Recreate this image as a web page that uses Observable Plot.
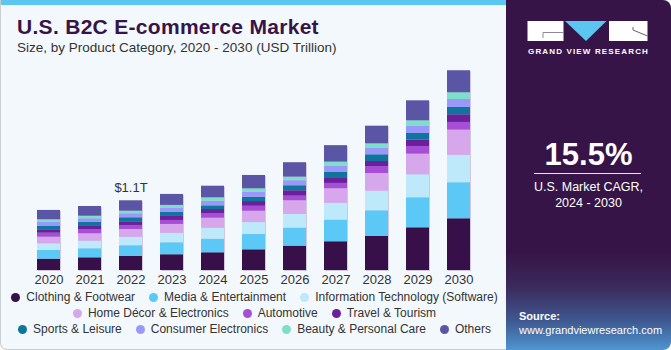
<!DOCTYPE html>
<html>
<head>
<meta charset="utf-8">
<script src="https://cdn.jsdelivr.net/npm/d3@7"></script>
<script src="https://cdn.jsdelivr.net/npm/@observablehq/plot@0.6"></script>
<style>
  html, body { margin: 0; padding: 0; }
  body { width: 671px; height: 350px; position: relative; overflow: hidden; background: #fff; font-family: "Liberation Sans", Arial, sans-serif; }
  #left { position: absolute; left: 0; top: 0; width: 507px; height: 350px; box-sizing: border-box; background: #f3f8fc; border: 1px solid #c9ced3; border-top: none; border-radius: 0 0 0 7px; overflow: hidden; }
  #stripe { position: absolute; left: 0; top: 0; width: 507px; height: 5px; background: #5cc6f2; }
  #title { position: absolute; left: 16px; top: 16px; font-size: 21px; line-height: 21px; font-weight: bold; letter-spacing: 0.3px; color: #371447; white-space: nowrap; }
  #subtitle { position: absolute; left: 16px; top: 40px; font-size: 13.5px; line-height: 16px; color: #333; white-space: nowrap; }
  #chart { position: absolute; left: 0; top: 0; }
  #legend { position: absolute; left: 0; top: 289px; width: 507px; font-size: 12px; color: #333; }
  .row { display: flex; justify-content: center; gap: 14px; height: 16px; line-height: 16px; }
  .item { display: flex; align-items: center; white-space: nowrap; }
  .dot { width: 9px; height: 9px; border-radius: 50%; margin-right: 6px; }
  #right { position: absolute; left: 506px; top: 0; width: 165px; height: 350px; border-radius: 0 8px 8px 0; overflow: hidden;
    background: linear-gradient(to bottom, #371447 0%, #371447 72%, #3b2a5c 82%, #3f5a92 92%, #4f96d2 100%); }
  #logo { position: absolute; left: 0; top: 0; }
  #gvr { position: absolute; left: 0; top: 47px; width: 165px; text-align: center; font-size: 8px; font-weight: bold; letter-spacing: 1.15px; color: #fff; }
  #cagr { position: absolute; left: 0; top: 139px; width: 165px; text-align: center; font-size: 31px; line-height: 32px; font-weight: bold; color: #fff; }
  #rule { position: absolute; left: 28px; top: 173px; width: 107px; height: 1px; background: #e9e4ef; }
  #cagrtxt { position: absolute; left: 0; top: 179px; width: 165px; text-align: center; font-size: 12.5px; line-height: 16px; color: #fff; }
  #source { position: absolute; left: 13px; top: 309px; font-size: 11px; line-height: 14px; color: #fff; }
</style>
</head>
<body>
<div id="left">
  <div id="stripe"></div>
  <div id="title">U.S. B2C E-commerce Market</div>
  <div id="subtitle">Size, by Product Category, 2020 - 2030 (USD Trillion)</div>
  <div id="chart"></div>
  <div id="legend"></div>
</div>
<div id="right">
  <svg id="logo" width="165" height="45">
    <rect x="21.5" y="21" width="36" height="20" fill="#fff"/>
    <path d="M37 38 V32.5 H57.5" stroke="#8a8a9a" stroke-width="1" fill="none"/>
    <polygon points="59,21 100.5,21 80,41" fill="#5cc6f2"/>
    <rect x="103" y="21" width="38.5" height="20" fill="#fff"/>
    <path d="M127 27 V30 L141.5 36" stroke="#6a5a80" stroke-width="1" fill="none"/>
  </svg>
  <div id="gvr">GRAND VIEW RESEARCH</div>
  <div id="cagr">15.5%</div>
  <div id="rule"></div>
  <div id="cagrtxt">U.S. Market CAGR,<br>2024 - 2030</div>
  <div id="source"><b>Source:</b><br>www.grandviewresearch.com</div>
</div>
<script>
const years = ["2020","2021","2022","2023","2024","2025","2026","2027","2028","2029","2030"];
const categories = ["Clothing & Footwear","Media & Entertainment","Information Technology (Software)","Home Décor & Electronics","Automotive","Travel & Tourism","Sports & Leisure","Consumer Electronics","Beauty & Personal Care","Others"];
const colors = ["#37104a","#5bc8f5","#bde9fa","#d6a8eb","#a64fd6","#6b1f9a","#0e769c","#9b98fb","#7ddfc9","#5a55a5"];

const clothing = [0.178,0.200,0.221,0.248,0.279,0.326,0.383,0.453,0.536,0.673,0.815];
const media    = [0.137,0.142,0.169,0.189,0.214,0.241,0.284,0.341,0.405,0.473,0.568];
const infoTech = [0.106,0.120,0.131,0.147,0.173,0.189,0.216,0.263,0.309,0.363,0.431];
const homeDecor= [0.104,0.117,0.126,0.142,0.158,0.178,0.216,0.232,0.279,0.325,0.399];
const automotive=[0.063,0.063,0.063,0.063,0.074,0.079,0.073,0.084,0.110,0.121,0.121];
const travel   = [0.054,0.052,0.058,0.063,0.063,0.074,0.085,0.090,0.079,0.099,0.121];
const sports   = [0.057,0.063,0.063,0.063,0.058,0.068,0.079,0.088,0.106,0.106,0.115];
const consumer = [0.063,0.058,0.063,0.068,0.073,0.079,0.079,0.090,0.099,0.115,0.126];
const beauty   = [0.038,0.041,0.041,0.043,0.054,0.054,0.057,0.068,0.074,0.085,0.106];
const others   = [0.147,0.153,0.164,0.173,0.183,0.210,0.227,0.259,0.278,0.315,0.347];

const annotationYear = "2022";
const annotationLabel = "$1.1T";

const series = [clothing, media, infoTech, homeDecor, automotive, travel, sports, consumer, beauty, others];
const data = [];
years.forEach((y, i) => {
  categories.forEach((c, j) => data.push({year: y, category: c, value: series[j][i]}));
});
const totals = years.map((y, i) => ({year: y, total: d3.sum(series, s => s[i])}));
const annot = totals.filter(d => d.year === annotationYear).map(d => ({...d, label: annotationLabel}));

const chart = Plot.plot({
  width: 505,
  height: 290,
  marginTop: 67,
  marginBottom: 20,
  marginLeft: 13,
  marginRight: 12,
  style: {background: "transparent", fontFamily: "Liberation Sans, Arial, sans-serif"},
  x: {domain: years, padding: 0.4286, label: null, tickSize: 0, tickPadding: 4},
  y: {domain: [0, 3.2], axis: null},
  color: {domain: categories, range: colors},
  marks: [
    Plot.barY(totals, {x: "year", y: "total", fill: "#cfc8de", dx: 1, dy: 1}),
    Plot.barY(data, {x: "year", y: "value", fill: "category", order: null}),
    Plot.text(annot, {x: "year", y: "total", text: "label", dy: -9, lineAnchor: "bottom", fontSize: 13, fill: "#333"}),
    Plot.axisX({tickSize: 0, tickPadding: 4, fontSize: 13, color: "#333", label: null})
  ]
});
document.getElementById("chart").appendChild(chart);

// legend
const rows = [[0,1,2],[3,4,5],[6,7,8,9]];
const legend = document.getElementById("legend");
rows.forEach(r => {
  const row = document.createElement("div");
  row.className = "row";
  r.forEach(j => {
    const it = document.createElement("div");
    it.className = "item";
    const dot = document.createElement("span");
    dot.className = "dot";
    dot.style.background = colors[j];
    it.appendChild(dot);
    it.appendChild(document.createTextNode(categories[j]));
    row.appendChild(it);
  });
  legend.appendChild(row);
});
</script>
</body>
</html>
